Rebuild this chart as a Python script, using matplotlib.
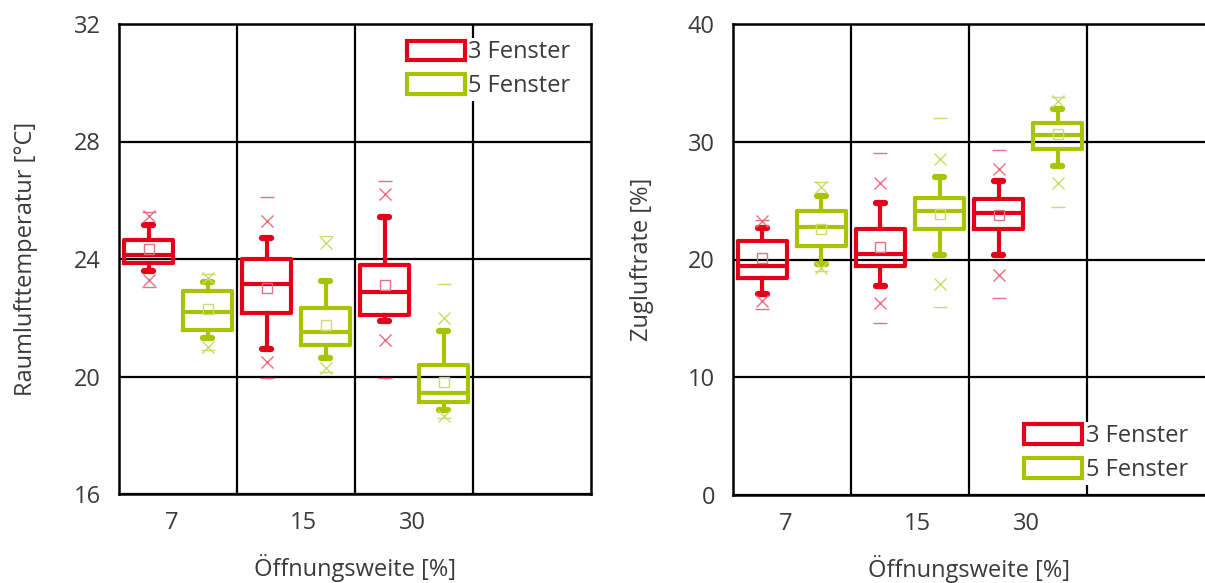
import matplotlib
matplotlib.use("Agg")
import matplotlib.pyplot as plt
from matplotlib.patches import Patch

plt.rcParams['font.family'] = ['Open Sans', 'DejaVu Sans']

openings = ['7', '15', '30']
series = ['3 Fenster', '5 Fenster']

# Raumlufttemperatur [°C], per opening: 3 Fenster / 5 Fenster
temp_min   = [[23.05, 19.95, 19.95], [20.9, 20.15, 18.6]]
temp_p01   = [[23.3, 20.5, 21.23], [21.0, 20.3, 18.65]]
temp_lo    = [[23.6, 20.93, 21.9], [21.3, 20.62, 18.85]]
temp_q1    = [[23.85, 22.15, 22.08], [21.6, 21.06, 19.13]]
temp_med   = [[24.15, 23.15, 22.86], [22.2, 21.5, 19.43]]
temp_q3    = [[24.65, 24.0, 23.8], [22.9, 22.32, 20.38]]
temp_hi    = [[25.15, 24.73, 25.44], [23.23, 23.24, 21.54]]
temp_p99   = [[25.45, 25.3, 26.2], [23.37, 24.55, 22.0]]
temp_max   = [[25.6, 26.12, 26.67], [23.5, 24.8, 23.15]]
temp_mean  = [[24.35, 23.0, 23.1], [22.3, 21.74, 19.8]]

# Zugluftrate [%]
draft_min  = [[15.8, 14.6, 16.7], [19.0, 16.0, 24.5]]
draft_p01  = [[16.5, 16.3, 18.7], [19.3, 17.9, 26.5]]
draft_lo   = [[17.07, 17.75, 20.4], [19.6, 20.4, 27.9]]
draft_q1   = [[18.43, 19.45, 22.6], [21.15, 22.6, 29.4]]
draft_med  = [[19.45, 20.45, 23.95], [22.76, 24.1, 30.6]]
draft_q3   = [[21.57, 22.6, 25.1], [24.1, 25.2, 31.6]]
draft_hi   = [[22.7, 24.8, 26.7], [25.4, 27.0, 32.8]]
draft_p99  = [[23.27, 26.5, 27.7], [26.15, 28.5, 33.5]]
draft_max  = [[23.35, 29.05, 29.3], [26.6, 32.0, 33.8]]
draft_mean = [[20.1, 21.1, 23.8], [22.6, 23.85, 30.7]]

colors = ['#e2001a', '#a8c400']
light = ['#ea6f82', '#cbdc6a']
offsets = [-0.25, 0.25]
tick_pos = [0.45, 1.56, 2.49]
text_color = '#3a3a3a'
fs = 17


def draw_panel(ax, lo, q1, med, q3, hi, mean, p01, p99, vmin, vmax):
    for s in range(2):
        stats = []
        for g in range(3):
            stats.append(dict(whislo=lo[s][g], q1=q1[s][g], med=med[s][g],
                              q3=q3[s][g], whishi=hi[s][g], mean=mean[s][g],
                              fliers=[]))
        pos = [g + 0.5 + offsets[s] for g in range(3)]
        c = colors[s]
        ax.bxp(stats, positions=pos, widths=0.41, capwidths=0.08,
               showmeans=True, showfliers=False, manage_ticks=False,
               boxprops=dict(color=c, linewidth=3.0),
               medianprops=dict(color=c, linewidth=3.0),
               whiskerprops=dict(color=c, linewidth=3.0),
               capprops=dict(color=c, linewidth=4.5, solid_capstyle='round'),
               meanprops=dict(marker='s', markersize=7, markerfacecolor='none',
                              markeredgecolor=light[s], markeredgewidth=1.0),
               zorder=4)
        for g in range(3):
            x = pos[g]
            ax.plot([x, x], [p01[s][g], p99[s][g]], ls='none', marker='x',
                    ms=9, mew=1.0, color=light[s], zorder=4)
            ax.plot([x, x], [vmin[s][g], vmax[s][g]], ls='none', marker='_',
                    ms=10, mew=1.0, color=light[s], zorder=4)

    ax.set_xlim(0, 4)
    ax.set_xticks(tick_pos)
    ax.set_xticklabels(openings)
    ax.set_xticks([1, 2, 3], minor=True)
    ax.grid(True, which='minor', axis='x', color='black', linewidth=1.6)
    ax.grid(True, which='major', axis='y', color='black', linewidth=1.6)
    ax.set_axisbelow(True)
    ax.tick_params(which='both', length=0, labelsize=fs, colors=text_color)
    ax.tick_params(axis='x', pad=12)
    ax.tick_params(axis='y', pad=13)
    for sp in ax.spines.values():
        sp.set_linewidth(1.8)
        sp.set_color('black')
    ax.set_xlabel('Öffnungsweite [%]', fontsize=fs, color=text_color, labelpad=14)


fig = plt.figure(figsize=(12.05, 5.83), dpi=100)
ax1 = fig.add_axes([119 / 1205, 89 / 583, 472 / 1205, 470 / 583])
ax2 = fig.add_axes([733 / 1205, 88 / 583, 472 / 1205, 471 / 583])

draw_panel(ax1, temp_lo, temp_q1, temp_med, temp_q3, temp_hi, temp_mean,
           temp_p01, temp_p99, temp_min, temp_max)
ax1.set_ylim(16, 32)
ax1.set_yticks([16, 20, 24, 28, 32])
ax1.set_ylabel('Raumlufttemperatur [°C]', fontsize=fs, color=text_color, labelpad=26)

draw_panel(ax2, draft_lo, draft_q1, draft_med, draft_q3, draft_hi, draft_mean,
           draft_p01, draft_p99, draft_min, draft_max)
ax2.set_ylim(0, 40)
ax2.set_yticks([0, 10, 20, 30, 40])
ax2.set_ylabel('Zugluftrate [%]', fontsize=fs, color=text_color, labelpad=24)
ax2.spines['right'].set_visible(False)

handles = [Patch(facecolor='white', edgecolor=c, linewidth=3.0, label=l)
           for c, l in zip(colors, series)]
leg_kw = dict(fontsize=fs, handlelength=2.45, handleheight=0.9, handletextpad=0.15,
              labelspacing=0.42, borderpad=0.1, borderaxespad=0, framealpha=1,
              facecolor='white', edgecolor='none', fancybox=False,
              labelcolor=text_color)
leg1 = ax1.legend(handles=handles, loc='upper left', bbox_to_anchor=(0.605, 0.97), **leg_kw)
leg1.set_zorder(5)
leg2 = ax2.legend(handles=handles, loc='lower left', bbox_to_anchor=(0.612, 0.022), **leg_kw)
leg2.set_zorder(5)

fig.savefig('out.png', dpi=100, facecolor='white')
